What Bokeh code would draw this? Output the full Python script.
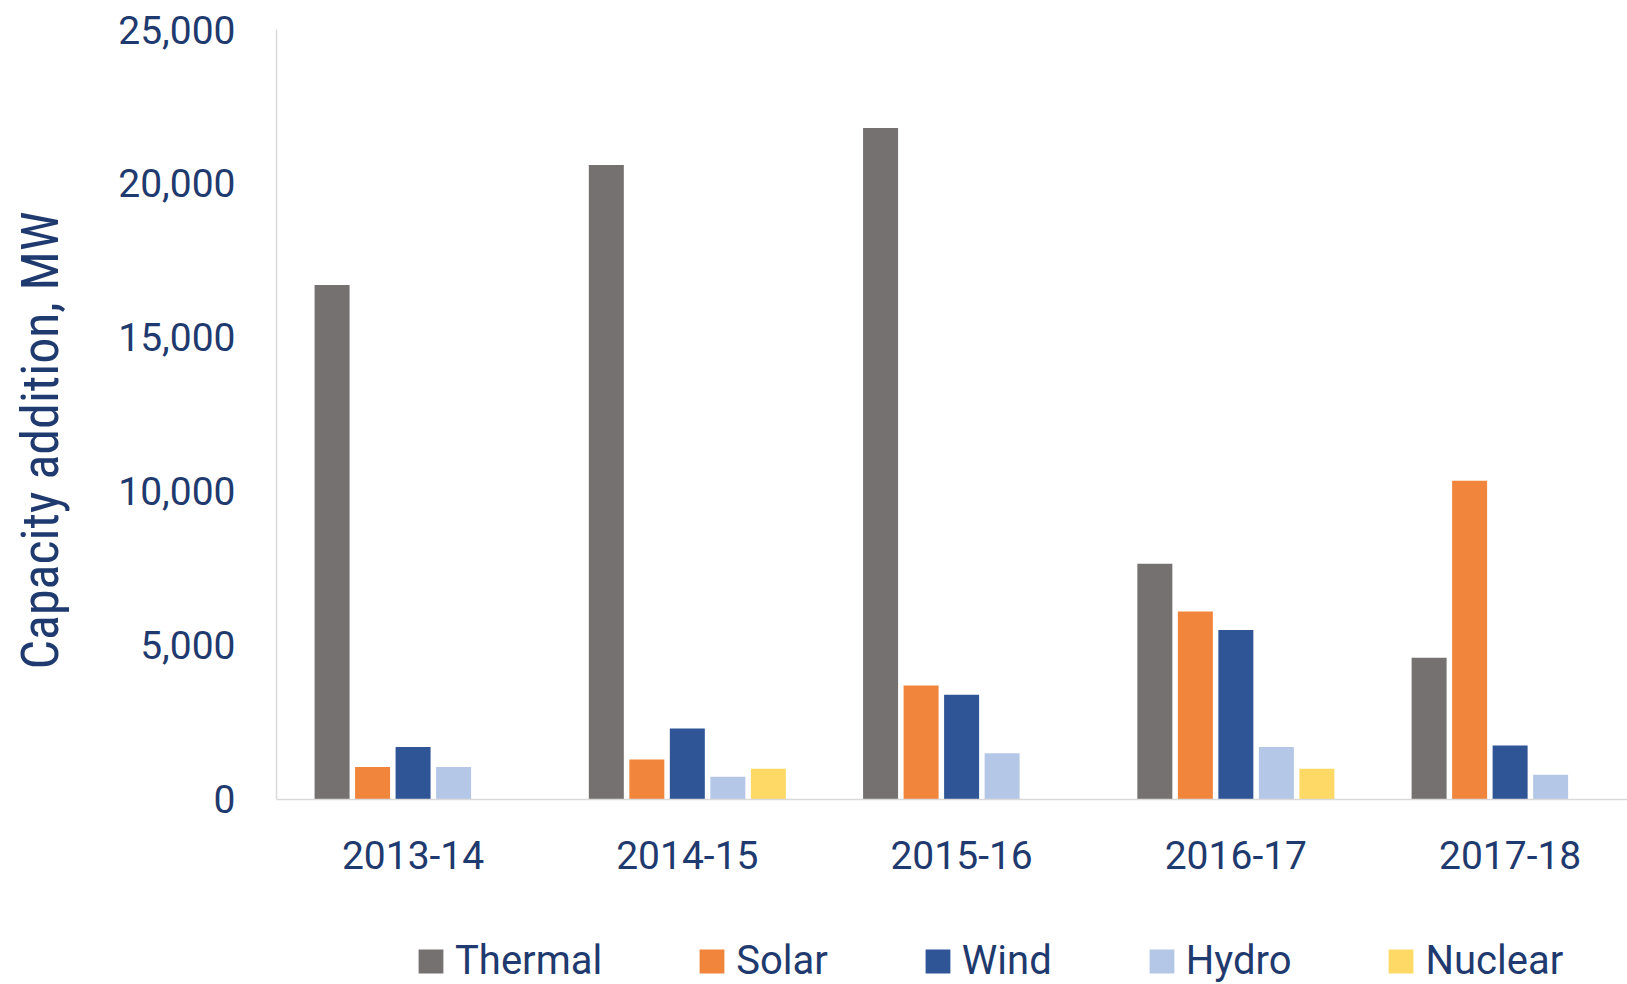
from bokeh.plotting import figure
from bokeh.layouts import column
from bokeh.models import FixedTicker, Legend, LegendItem, Range1d, NumeralTickFormatter, LinearAxis
from bokeh.embed import file_html
from bokeh.resources import INLINE

years = ["2013-14", "2014-15", "2015-16", "2016-17", "2017-18"]
series = ["Thermal", "Solar", "Wind", "Hydro", "Nuclear"]
thermal = [16700, 20600, 21800, 7650, 4600]
solar = [1050, 1300, 3700, 6100, 10350]
wind = [1700, 2300, 3400, 5500, 1750]
hydro = [1050, 740, 1500, 1700, 800]
nuclear = [0, 1000, 0, 1000, 0]
colors = ["#767171", "#F0853B", "#2F5597", "#B4C7E7", "#FFD966"]
y_ticks = [0, 5000, 10000, 15000, 20000, 25000]
y_title = "Capacity addition, MW"

TXT = "#1F3A6E"
FONT = "Roboto"
AXIS_GREY = "#D9D9D9"

W = 1627
H_MAIN = 900
H_LEG = 84

# frame reaches a little below zero so the y title centres like the original
p = figure(width=W, height=H_MAIN, output_backend="svg", toolbar_location=None,
           x_range=Range1d(-0.498, 4.428), y_range=Range1d(-1690, 25000),
           min_border_left=276, min_border_right=0, min_border_top=29,
           min_border_bottom=49)
p.outline_line_color = None
p.xgrid.grid_line_color = None
p.ygrid.grid_line_color = None

values = [thermal, solar, wind, hydro, nuclear]
pitch = 0.1477
bw = 0.1276
for k, (name, vals, col) in enumerate(zip(series, values, colors)):
    xs = [i + (k - 2) * pitch for i in range(len(years))]
    p.vbar(x=xs, top=vals, width=bw, bottom=0, fill_color=col, line_color=None)

# category labels (below panel, pulled up under the zero line)
xax = p.xaxis[0]
xax.ticker = FixedTicker(ticks=list(range(len(years))))
xax.major_label_overrides = {i: y for i, y in enumerate(years)}
xax.axis_line_color = None
xax.major_tick_line_color = None
xax.minor_tick_line_color = None
xax.major_tick_out = 0
xax.major_tick_in = 0
xax.major_label_text_font = FONT
xax.major_label_text_font_size = "39px"
xax.major_label_text_color = TXT
xax.major_label_standoff = -11

# baseline drawn at y = 0
base = LinearAxis(fixed_location=0, ticker=FixedTicker(ticks=[]),
                  axis_line_color=AXIS_GREY, axis_line_width=1.5,
                  major_tick_line_color=None, minor_tick_line_color=None,
                  major_tick_out=0, major_tick_in=0, major_label_standoff=0)
p.add_layout(base, "below")

# y axis
yax = p.yaxis[0]
yax.ticker = FixedTicker(ticks=y_ticks)
yax.formatter = NumeralTickFormatter(format="0,0")
yax.bounds = (y_ticks[0], y_ticks[-1])
yax.axis_line_color = AXIS_GREY
yax.axis_line_width = 1.5
yax.major_tick_line_color = None
yax.minor_tick_line_color = None
yax.major_tick_out = 0
yax.major_tick_in = 0
yax.major_label_standoff = 41
yax.major_label_text_font = FONT
yax.major_label_text_font_size = "39px"
yax.major_label_text_color = TXT
yax.axis_label = y_title
yax.axis_label_standoff = 44
yax.axis_label_text_font = "Roboto Condensed"
yax.axis_label_text_font_size = "52px"
yax.axis_label_text_font_style = "normal"
yax.axis_label_text_color = TXT

# legend strip
q = figure(width=W, height=H_LEG, output_backend="svg", toolbar_location=None,
           x_range=Range1d(0, 1), y_range=Range1d(0, 1),
           x_axis_type=None, y_axis_type=None,
           min_border_left=0, min_border_right=0, min_border_top=0, min_border_bottom=0)
q.outline_line_color = None
q.xgrid.grid_line_color = None
q.ygrid.grid_line_color = None
items = []
for name, col in zip(series, colors):
    r = q.vbar(x=[0.5], top=[0], bottom=[0], width=0.01, fill_color=col, line_color=None)
    items.append(LegendItem(label=name, renderers=[r]))
legend = Legend(items=items, orientation="horizontal", location=(139, 0),
                spacing=94, glyph_width=31, glyph_height=30, label_standoff=9,
                padding=0, margin=0, border_line_color=None, background_fill_alpha=0,
                label_text_font=FONT, label_text_font_size="40px", label_text_color=TXT)
q.add_layout(legend, "center")

layout = column(p, q, spacing=0)
open("out.html", "w").write(file_html(layout, INLINE))
